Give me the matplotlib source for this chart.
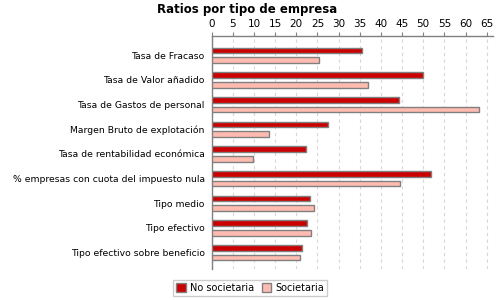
import numpy as np
import matplotlib
matplotlib.use("Agg")
import matplotlib.pyplot as plt

categorias = [
    "Tasa de Fracaso",
    "Tasa de Valor añadido",
    "Tasa de Gastos de personal",
    "Margen Bruto de explotación",
    "Tasa de rentabilidad económica",
    "% empresas con cuota del impuesto nula",
    "Tipo medio",
    "Tipo efectivo",
    "Tipo efectivo sobre beneficio",
]
no_societaria = [35.5, 50.0, 44.3, 27.6, 22.2, 51.9, 23.2, 22.5, 21.4]
societaria = [25.3, 36.9, 63.1, 13.5, 9.7, 44.4, 24.1, 23.4, 20.8]
series = ["No societaria", "Societaria"]
xticks = list(range(0, 70, 5))

fig = plt.figure(figsize=(5, 3), dpi=100)
ax = fig.add_axes([0.4234, 0.103, 0.5626, 0.778])

y = np.arange(len(categorias))
h = 0.23
ax.barh(y - 0.195, no_societaria, height=h, color="#cc0000", edgecolor="#808080",
        linewidth=1, label=series[0], zorder=3)
ax.barh(y + 0.195, societaria, height=h, color="#ffbbb0", edgecolor="#808080",
        linewidth=1, label=series[1], zorder=3)

ax.set_yticks(y)
ax.set_yticklabels(categorias, fontsize=6.7)
ax.set_ylim(len(categorias) - 1 + 0.67, -0.79)
ax.set_xlim(0, 66.5)
ax.set_xticks(xticks)
ax.xaxis.tick_top()
ax.tick_params(axis="x", labelsize=7.5, length=3, color="#808080", pad=2)
ax.tick_params(axis="y", length=0, pad=5)
ax.grid(axis="x", linestyle=(0, (3, 3)), color="#d8d8d8", linewidth=0.8, zorder=0)

for s in ["right", "bottom"]:
    ax.spines[s].set_visible(False)
for s in ["left", "top"]:
    ax.spines[s].set_color("#808080")
    ax.spines[s].set_linewidth(1)

fig.text(0.494, 0.97, "Ratios por tipo de empresa", ha="center", va="center",
         fontsize=8.5, fontweight="bold")

fig.legend(loc="center", bbox_to_anchor=(0.5, 0.04), ncol=2, fontsize=7,
           frameon=True, edgecolor="#c0c0c0", fancybox=False,
           handlelength=1.0, handleheight=1.0, handletextpad=0.4,
           columnspacing=0.8, borderpad=0.3)

fig.savefig("out.png", dpi=100)
